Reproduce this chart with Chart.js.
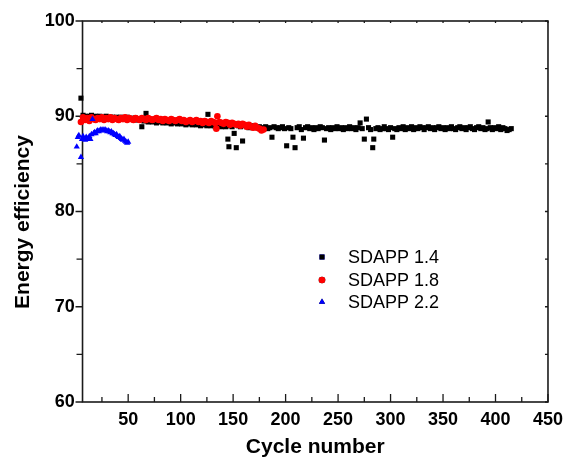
<!DOCTYPE html>
<html>
<head>
<meta charset="utf-8">
<script src="https://cdn.jsdelivr.net/npm/chart.js@4/dist/chart.umd.min.js"></script>
<style>
  html, body { margin: 0; padding: 0; background: #fff; }
  #wrap { width: 570px; height: 462px; }
</style>
</head>
<body>
<div id="wrap"><canvas id="chart" width="570" height="462"></canvas></div>
<script>
// tick labels
const xTickValues = [50, 100, 150, 200, 250, 300, 350, 400, 450];
const yTickValues = [60, 70, 80, 90, 100];
// the drawn frame starts a little after cycle 0
const xFrameStart = 6.5;

const seriesNames = ['SDAPP 1.4', 'SDAPP 1.8', 'SDAPP 2.2'];

// SDAPP 1.4 (black squares)
const blackX = [5, 7, 9, 11, 13, 15, 17, 19, 21, 23, 25, 27, 29, 31, 33, 35, 37, 39, 41, 43,
  45, 47, 49, 51, 53, 55, 57, 59, 61, 63, 65, 67, 69, 71, 73, 75, 77, 79, 81, 83,
  85, 87, 89, 91, 93, 95, 97, 99, 101, 103, 105, 107, 109, 111, 113, 115, 117, 119, 121, 123,
  125, 126, 127, 129, 131, 133, 135, 137, 139, 141, 143, 145, 146, 147, 149, 151, 153, 155, 157, 159,
  161, 163, 165, 167, 169, 171, 173, 175, 177, 179, 181, 183, 185, 187, 189, 191, 193, 195, 197, 199,
  201, 203, 205, 207, 209, 211, 213, 215, 217, 219, 221, 223, 225, 227, 229, 231, 233, 235, 237, 239,
  241, 243, 245, 247, 249, 251, 253, 255, 257, 259, 261, 263, 265, 267, 269, 271, 273, 275, 277, 279,
  281, 283, 284, 286, 288, 290, 292, 294, 296, 298, 300, 302, 304, 306, 308, 310, 312, 314, 316, 318,
  320, 322, 324, 326, 328, 330, 332, 334, 336, 338, 340, 342, 344, 346, 348, 350, 352, 354, 356, 358,
  360, 362, 364, 366, 368, 370, 372, 374, 376, 378, 380, 382, 384, 386, 388, 390, 392, 393, 395, 397,
  399, 401, 403, 405, 407, 409, 411, 413, 415];
const blackY = [91.9, 90.1, 90.0, 89.9, 90.0, 90.1, 89.9, 90.0, 89.9, 90.0, 89.8, 89.9, 90.0, 89.8, 89.9, 89.9, 89.8, 89.9, 89.8, 89.9,
  89.7, 89.8, 89.9, 89.7, 89.8, 89.7, 89.8, 89.6, 89.7, 88.9, 89.5, 90.3, 89.4, 89.5, 89.4, 89.5, 89.3, 89.4, 89.5, 89.3,
  89.4, 89.3, 89.4, 89.2, 89.3, 89.4, 89.2, 89.3, 89.2, 89.3, 89.1, 89.2, 89.3, 89.1, 89.2, 89.1, 89.2, 89.0, 89.1, 89.2,
  89.0, 90.2, 89.1, 89.0, 89.1, 88.9, 89.0, 89.1, 88.9, 89.0, 88.9, 87.6, 86.8, 89.0, 88.9, 88.2, 86.7, 89.0, 88.9, 87.4,
  89.0, 88.9, 88.8, 89.0, 88.8, 88.9, 88.8, 88.9, 88.7, 88.8, 88.9, 88.7, 88.8, 87.8, 88.9, 88.8, 88.7, 88.8, 88.9, 88.7,
  86.9, 88.8, 88.7, 87.8, 86.7, 88.8, 88.9, 88.6, 87.7, 88.8, 88.9, 88.7, 88.8, 88.6, 88.8, 88.7, 88.9, 88.8, 87.5, 88.7,
  88.8, 88.6, 88.8, 88.7, 88.9, 88.7, 88.8, 88.6, 88.8, 88.7, 88.9, 88.7, 88.8, 88.6, 88.8, 89.3, 88.7, 87.6, 89.7, 88.8,
  88.6, 86.7, 87.6, 88.7, 88.8, 88.6, 88.7, 88.9, 88.7, 88.6, 88.8, 87.8, 88.7, 88.6, 88.8, 88.7, 88.9, 88.6, 88.8, 88.7,
  88.9, 88.6, 88.8, 88.7, 88.9, 88.8, 88.6, 88.8, 88.9, 88.7, 88.8, 88.6, 88.8, 88.9, 88.7, 88.8, 88.6, 88.8, 88.7, 88.9,
  88.7, 88.6, 88.8, 88.9, 88.7, 88.8, 88.6, 88.8, 88.9, 88.7, 88.6, 88.8, 88.9, 88.7, 88.8, 88.6, 88.7, 89.4, 88.8, 88.6,
  88.8, 88.7, 88.9, 88.6, 88.8, 88.7, 88.5, 88.6, 88.7];

// SDAPP 1.8 (red circles)
const redX = [5, 7, 9, 11, 13, 15, 17, 19, 21, 23, 25, 27, 29, 31, 33, 35, 37, 39, 41, 43,
  45, 47, 49, 51, 53, 55, 57, 59, 61, 63, 65, 67, 69, 71, 73, 75, 77, 79, 81, 83,
  85, 87, 89, 91, 93, 95, 97, 99, 101, 103, 105, 107, 109, 111, 113, 115, 117, 119, 121, 123,
  125, 127, 129, 131, 133, 134, 135, 137, 139, 141, 143, 145, 147, 149, 151, 153, 155, 157, 159, 161,
  163, 165, 167, 169, 171, 173, 175, 177, 179];
const redY = [89.4, 89.9, 89.6, 89.8, 89.5, 89.9, 89.7, 89.6, 89.8, 89.7, 89.9, 89.6, 89.8, 89.7, 89.9, 89.6, 89.8, 89.7, 89.6, 89.8,
  89.7, 89.9, 89.6, 89.8, 89.7, 89.6, 89.8, 89.7, 89.6, 89.8, 89.7, 89.6, 89.8, 89.7, 89.6, 89.7, 89.8, 89.6, 89.7, 89.5,
  89.7, 89.6, 89.5, 89.7, 89.6, 89.5, 89.6, 89.7, 89.5, 89.6, 89.4, 89.5, 89.6, 89.4, 89.5, 89.6, 89.4, 89.5, 89.3, 89.5,
  89.4, 89.3, 89.5, 89.4, 89.3, 88.7, 90.0, 89.4, 89.3, 89.2, 89.4, 89.3, 89.1, 89.3, 89.2, 89.1, 89.2, 89.0, 89.2, 89.1,
  88.9, 89.1, 88.9, 88.8, 89.0, 88.8, 88.7, 88.5, 88.6];

// SDAPP 2.2 (blue triangles)
const blueX = [1, 2, 3, 5, 6, 7, 8, 9, 10, 11, 12, 13, 14, 15, 16, 17, 18, 19, 20, 21,
  22, 23, 24, 25, 26, 27, 28, 29, 30, 31, 32, 33, 34, 35, 36, 37, 38, 39, 40, 41,
  42, 43, 44, 45, 46, 47, 48, 49, 50];
const blueY = [86.8, 87.8, 88.0, 85.7, 87.6, 87.9, 87.6, 87.5, 87.8, 87.6, 87.7, 87.9, 87.6, 88.1, 89.7, 88.2, 88.3, 88.2, 88.4, 88.5,
  88.4, 88.5, 88.6, 88.5, 88.6, 88.5, 88.6, 88.5, 88.4, 88.5, 88.4, 88.3, 88.4, 88.2, 88.2, 88.1, 88.0, 88.1, 87.9, 87.8,
  87.9, 87.7, 87.6, 87.5, 87.6, 87.4, 87.3, 87.2, 87.3];

function toPoints(xs, ys) {
  return xs.map((x, i) => ({ x: x, y: ys[i] }));
}

const FONT = "'Liberation Sans', Arial, sans-serif";
const AXIS = '#1a1a1a';

// frame, inward/outward ticks, axis titles and legend, all placed through the scales
const framePlugin = {
  id: 'frame',
  beforeDatasetsDraw(chart) {
    const ctx = chart.ctx;
    const a = chart.chartArea;
    const xs = chart.scales.x, ys = chart.scales.y;
    const left = xs.getPixelForValue(xFrameStart);
    ctx.save();
    ctx.strokeStyle = AXIS;
    ctx.lineWidth = 1.6;
    ctx.strokeRect(left, a.top, a.right - left, a.bottom - a.top);
    ctx.lineWidth = 1.3;
    ctx.beginPath();
    // bottom + top ticks
    for (let v = 25; v <= 450; v += 25) {
      const px = xs.getPixelForValue(v);
      const major = v % 50 === 0;
      ctx.moveTo(px, a.bottom);
      ctx.lineTo(px, a.bottom - (major ? 8 : 5));
      ctx.moveTo(px, a.top);
      ctx.lineTo(px, a.top + 2);
    }
    // left (outward) + right (inward) ticks
    for (let v = 60; v <= 100; v += 5) {
      const py = ys.getPixelForValue(v);
      const major = v % 10 === 0;
      ctx.moveTo(left, py);
      ctx.lineTo(left - (major ? 7 : 6), py);
      ctx.moveTo(a.right, py);
      ctx.lineTo(a.right - 3, py);
    }
    ctx.stroke();
    ctx.restore();
  },
  afterDraw(chart) {
    const ctx = chart.ctx;
    const a = chart.chartArea;
    const left = chart.scales.x.getPixelForValue(xFrameStart);
    ctx.save();
    ctx.fillStyle = '#000';
    ctx.font = 'bold 21px ' + FONT;
    ctx.textAlign = 'center';
    ctx.textBaseline = 'middle';
    // x axis title, centred on the drawn frame
    ctx.fillText('Cycle number', (left + a.right) / 2, 447);
    // y axis title
    ctx.translate(23, 222);
    ctx.rotate(-Math.PI / 2);
    ctx.fillText('Energy efficiency', 0, 0);
    ctx.restore();

    // legend
    ctx.save();
    const rows = [257, 280, 302];
    chart.data.datasets.forEach((ds, i) => {
      const y = rows[i];
      Chart.helpers.drawPoint(ctx, {
        pointStyle: ds.pointStyle,
        radius: ds.pointRadius,
        borderWidth: 0,
        rotation: 0
      }, 322, y);
      ctx.fillStyle = ds.backgroundColor;
      ctx.fill();
      ctx.fillStyle = '#000';
      ctx.font = '18px ' + FONT;
      ctx.textAlign = 'left';
      ctx.textBaseline = 'middle';
      ctx.fillText(ds.label, 348, y + 1);
    });
    ctx.restore();
  }
};

const ctx = document.getElementById('chart').getContext('2d');
new Chart(ctx, {
  type: 'scatter',
  data: {
    datasets: [
      {
        label: seriesNames[0],
        data: toPoints(blackX, blackY),
        pointStyle: 'rect',
        pointRadius: 3.6,
        backgroundColor: '#000000',
        borderColor: '#000000',
        borderWidth: 0,
        order: 3,
        clip: false
      },
      {
        label: seriesNames[1],
        data: toPoints(redX, redY),
        pointStyle: 'circle',
        pointRadius: 3.3,
        backgroundColor: '#ff0000',
        borderColor: '#ff0000',
        borderWidth: 0,
        order: 2,
        clip: false
      },
      {
        label: seriesNames[2],
        data: toPoints(blueX, blueY),
        pointStyle: 'triangle',
        pointRadius: 3.6,
        backgroundColor: '#0000ff',
        borderColor: '#0000ff',
        borderWidth: 0,
        order: 1,
        clip: false
      }
    ]
  },
  options: {
    responsive: false,
    animation: false,
    devicePixelRatio: 1,
    layout: { padding: { top: 21, right: 17, left: 0, bottom: 0 } },
    plugins: {
      legend: { display: false },
      tooltip: { enabled: false }
    },
    scales: {
      x: {
        type: 'linear',
        min: 0,
        max: 450,
        grid: { display: false, drawTicks: false },
        border: { display: false },
        afterBuildTicks: (s) => { s.ticks = xTickValues.map(v => ({ value: v })); },
        afterFit: (s) => { s.height = 60; },
        ticks: {
          padding: 7,
          color: '#000',
          font: { family: FONT, size: 18, weight: 'bold' }
        }
      },
      y: {
        type: 'linear',
        min: 60,
        max: 100,
        grid: { display: false, drawTicks: false },
        border: { display: false },
        afterBuildTicks: (s) => { s.ticks = yTickValues.map(v => ({ value: v })); },
        afterFit: (s) => { s.width = 75.7; },
        ticks: {
          padding: 1,
          color: '#000',
          font: { family: FONT, size: 18, weight: 'bold' }
        }
      }
    }
  },
  plugins: [framePlugin]
});
</script>
</body>
</html>
